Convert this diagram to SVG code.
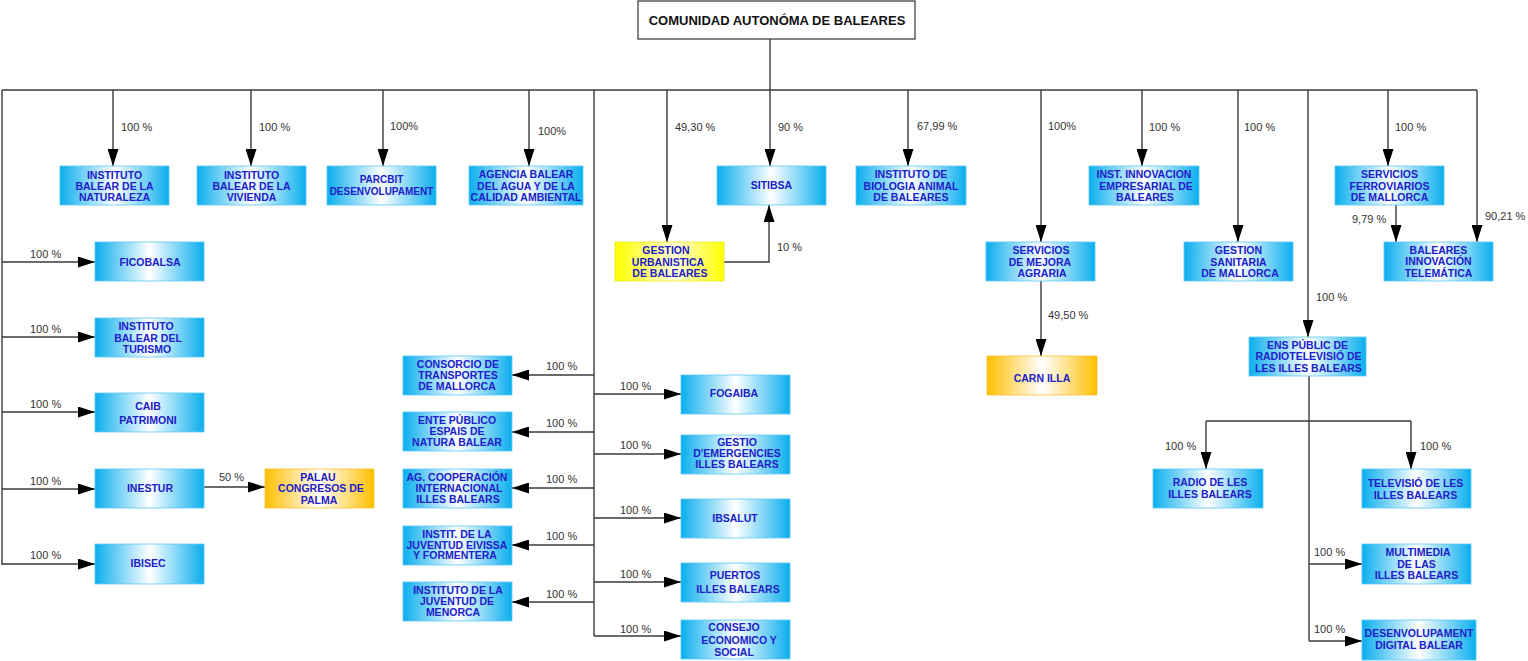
<svg xmlns="http://www.w3.org/2000/svg" width="1528" height="661" viewBox="0 0 1528 661">
<style>
.bx{fill:url(#gBlue);stroke:#5cc8f2;stroke-width:0.8}
.or{fill:url(#gOrange);stroke:#f5c030;stroke-width:0.8}
.ye{fill:url(#gYellow);stroke:#e8e820;stroke-width:0.8}
.t{font-family:"Liberation Sans",Arial,sans-serif;font-weight:bold;font-size:10.5px;fill:#2020c8;text-anchor:middle}
.ts{font-size:10px}
.lb{font-family:"Liberation Sans",Arial,sans-serif;font-size:11px;fill:#333}
.c{fill:none;stroke:#3a3a3a;stroke-width:1.4}
.ca{fill:none;stroke:#3a3a3a;stroke-width:1.4;marker-end:url(#arr)}
</style>
<defs>
<linearGradient id="gBlue" x1="0" y1="0" x2="1" y2="0">
<stop offset="0" stop-color="#0aaeee"/><stop offset="0.5" stop-color="#ffffff"/><stop offset="1" stop-color="#0aaeee"/>
</linearGradient>
<linearGradient id="gOrange" x1="0" y1="0" x2="1" y2="0">
<stop offset="0" stop-color="#ffbf00"/><stop offset="0.5" stop-color="#ffffff"/><stop offset="1" stop-color="#ffbf00"/>
</linearGradient>
<linearGradient id="gYellow" x1="0" y1="0" x2="1" y2="0">
<stop offset="0" stop-color="#ffff00"/><stop offset="0.55" stop-color="#ffffd8"/><stop offset="1" stop-color="#ffff00"/>
</linearGradient>
<marker id="arr" markerUnits="userSpaceOnUse" markerWidth="17" markerHeight="11" refX="17" refY="5.5" orient="auto">
<path d="M0,0 L17,5.5 L0,11 z" fill="#000"/>
</marker>
</defs>

<g id="connectors">
<path class="c" d="M2,90 H1477"/>
<path class="c" d="M2,90 V565"/>
<path class="ca" d="M770,39 V166"/>
<path class="ca" d="M113,90 V166"/>
<path class="ca" d="M251,90 V166"/>
<path class="ca" d="M383,90 V166"/>
<path class="ca" d="M529,90 V166"/>
<path class="ca" d="M908,90 V166"/>
<path class="ca" d="M1142,90 V166"/>
<path class="ca" d="M1388,90 V166"/>
<path class="ca" d="M667,90 V242"/>
<path class="ca" d="M1041,90 V242"/>
<path class="ca" d="M1238,90 V242"/>
<path class="ca" d="M1308,90 V337"/>
<path class="ca" d="M1477,90 V242"/>
<path class="ca" d="M1396,205 V242"/>
<path class="ca" d="M1041,281 V356"/>
<path class="ca" d="M724,262 H769 V205"/>
<path class="ca" d="M2,262 H95"/>
<path class="ca" d="M2,337 H95"/>
<path class="ca" d="M2,412 H95"/>
<path class="ca" d="M2,489 H95"/>
<path class="ca" d="M2,564 H95"/>
<path class="ca" d="M204,487 H265"/>
<path class="c" d="M594,90 V636"/>
<path class="ca" d="M594,375 H512"/>
<path class="ca" d="M594,432 H512"/>
<path class="ca" d="M594,488 H512"/>
<path class="ca" d="M594,545 H512"/>
<path class="ca" d="M594,602 H512"/>
<path class="ca" d="M594,394 H681"/>
<path class="ca" d="M594,454 H681"/>
<path class="ca" d="M594,518 H681"/>
<path class="ca" d="M594,582 H681"/>
<path class="ca" d="M594,636 H681"/>
<path class="c" d="M1309,375 V641"/>
<path class="c" d="M1206,421 H1411"/>
<path class="ca" d="M1206,421 V469"/>
<path class="ca" d="M1411,421 V469"/>
<path class="ca" d="M1309,564 H1362"/>
<path class="ca" d="M1309,641 H1362"/>
</g>

<g id="labels">
<text class="lb" x="121" y="131">100 %</text>
<text class="lb" x="259" y="131">100 %</text>
<text class="lb" x="390" y="130">100%</text>
<text class="lb" x="538" y="135">100%</text>
<text class="lb" x="675" y="131">49,30 %</text>
<text class="lb" x="778" y="131">90 %</text>
<text class="lb" x="917" y="130">67,99 %</text>
<text class="lb" x="1048" y="130">100%</text>
<text class="lb" x="1149" y="131">100 %</text>
<text class="lb" x="1244" y="131">100 %</text>
<text class="lb" x="1395" y="131">100 %</text>
<text class="lb" x="1352" y="223">9,79 %</text>
<text class="lb" x="1485" y="220">90,21 %</text>
<text class="lb" x="1316" y="301">100 %</text>
<text class="lb" x="777" y="251">10 %</text>
<text class="lb" x="1048" y="319">49,50 %</text>
<text class="lb" x="30" y="258">100 %</text>
<text class="lb" x="30" y="333">100 %</text>
<text class="lb" x="30" y="408">100 %</text>
<text class="lb" x="30" y="485">100 %</text>
<text class="lb" x="30" y="559">100 %</text>
<text class="lb" x="219" y="481">50 %</text>
<text class="lb" x="546" y="370">100 %</text>
<text class="lb" x="546" y="427">100 %</text>
<text class="lb" x="546" y="483">100 %</text>
<text class="lb" x="546" y="540">100 %</text>
<text class="lb" x="546" y="598">100 %</text>
<text class="lb" x="620" y="390">100 %</text>
<text class="lb" x="620" y="449">100 %</text>
<text class="lb" x="620" y="514">100 %</text>
<text class="lb" x="620" y="578">100 %</text>
<text class="lb" x="620" y="633">100 %</text>
<text class="lb" x="1165" y="450">100 %</text>
<text class="lb" x="1420" y="450">100 %</text>
<text class="lb" x="1314" y="556">100 %</text>
<text class="lb" x="1314" y="633">100 %</text>
</g>

<g id="n-comunidad">
<rect x="638" y="1" width="277" height="38" fill="#fff" stroke="#333" stroke-width="1.2"/>
<text x="777" y="25" style="font-family:'Liberation Sans',Arial,sans-serif;font-weight:bold;font-size:13px;fill:#111;text-anchor:middle">COMUNIDAD AUTONÓMA DE BALEARES</text>
</g>
<g id="n-naturaleza"><rect class="bx" x="60" y="166" width="109" height="39"/>
<text class="t" x="114.5" y="178.5">INSTITUTO</text><text class="t" x="114.5" y="190">BALEAR DE LA</text><text class="t" x="114.5" y="201">NATURALEZA</text></g>
<g id="n-vivienda"><rect class="bx" x="197" y="166" width="109" height="39"/>
<text class="t" x="251.5" y="178.5">INSTITUTO</text><text class="t" x="251.5" y="190">BALEAR DE LA</text><text class="t" x="251.5" y="201">VIVIENDA</text></g>
<g id="n-parcbit"><rect class="bx" x="327" y="166" width="109" height="39"/>
<text class="t ts" x="381.5" y="183">PARCBIT</text><text class="t ts" x="381.5" y="194.5">DESENVOLUPAMENT</text></g>
<g id="n-agencia"><rect class="bx" x="469" y="166" width="114" height="39"/>
<text class="t" x="526" y="178">AGENCIA BALEAR</text><text class="t" x="526" y="189.5">DEL AGUA Y DE LA</text><text class="t" x="526" y="201">CALIDAD AMBIENTAL</text></g>
<g id="n-sitibsa"><rect class="bx" x="717" y="166" width="109" height="39"/>
<text class="t" x="771.5" y="189">SITIBSA</text></g>
<g id="n-biologia"><rect class="bx" x="856" y="166" width="110" height="39"/>
<text class="t" x="911" y="178">INSTITUTO DE</text><text class="t" x="911" y="189.5">BIOLOGIA ANIMAL</text><text class="t" x="911" y="201">DE BALEARES</text></g>
<g id="n-innovacion"><rect class="bx" x="1089" y="166" width="110" height="39"/>
<text class="t" x="1144" y="178">INST.  INNOVACION</text><text class="t" x="1146" y="189.5">EMPRESARIAL DE</text><text class="t" x="1145" y="201">BALEARES</text></g>
<g id="n-ferroviarios"><rect class="bx" x="1335" y="166" width="109" height="39"/>
<text class="t" x="1389.5" y="178">SERVICIOS</text><text class="t" x="1389.5" y="189.5">FERROVIARIOS</text><text class="t" x="1389.5" y="201">DE MALLORCA</text></g>
<g id="n-urbanistica"><rect class="ye" x="615" y="242" width="109" height="39"/>
<text class="t" x="666" y="254">GESTION</text><text class="t" x="668" y="265.5">URBANISTICA</text><text class="t" x="670" y="277">DE BALEARES</text></g>
<g id="n-agraria"><rect class="bx" x="986" y="242" width="109" height="39"/>
<text class="t" x="1041" y="254">SERVICIOS</text><text class="t" x="1040" y="265.5">DE MEJORA</text><text class="t" x="1042" y="277">AGRARIA</text></g>
<g id="n-sanitaria"><rect class="bx" x="1184" y="242" width="109" height="39"/>
<text class="t" x="1238.5" y="254">GESTION</text><text class="t" x="1238.5" y="265.5">SANITARIA</text><text class="t" x="1240" y="277">DE MALLORCA</text></g>
<g id="n-telematica"><rect class="bx" x="1384" y="242" width="109" height="39"/>
<text class="t" x="1438.5" y="253.5">BALEARES</text><text class="t" x="1438.5" y="265">INNOVACIÓN</text><text class="t" x="1438.5" y="276.5">TELEMÁTICA</text></g>
<g id="n-carnilla"><rect class="or" x="987" y="356" width="110" height="39"/>
<text class="t" x="1042" y="382">CARN ILLA</text></g>
<g id="n-ens"><rect class="bx" x="1249" y="337" width="117" height="39"/>
<text class="t" x="1307.5" y="348.5">ENS PÚBLIC DE</text><text class="t" x="1308.5" y="360">RADIOTELEVISIÓ DE</text><text class="t" x="1308.5" y="371.5">LES ILLES BALEARS</text></g>
<g id="n-radio"><rect class="bx" x="1153" y="469" width="110" height="39"/>
<text class="t" x="1210" y="486">RADIO DE LES</text><text class="t" x="1210" y="498">ILLES BALEARS</text></g>
<g id="n-televisio"><rect class="bx" x="1362" y="469" width="109" height="39"/>
<text class="t" x="1415.5" y="487">TELEVISIÓ DE LES</text><text class="t" x="1415.5" y="499">ILLES BALEARS</text></g>
<g id="n-multimedia"><rect class="bx" x="1362" y="544" width="109" height="40"/>
<text class="t" x="1418" y="556">MULTIMEDIA</text><text class="t" x="1416.5" y="567.5">DE LAS</text><text class="t" x="1416.5" y="579">ILLES BALEARS</text></g>
<g id="n-digital"><rect class="bx" x="1362" y="620" width="114" height="40"/>
<text class="t" x="1419" y="637">DESENVOLUPAMENT</text><text class="t" x="1419" y="649">DIGITAL BALEAR</text></g>
<g id="n-ficobalsa"><rect class="bx" x="95" y="242" width="109" height="39"/>
<text class="t" x="150" y="265.5">FICOBALSA</text></g>
<g id="n-turismo"><rect class="bx" x="95" y="318" width="109" height="39"/>
<text class="t" x="146" y="330">INSTITUTO</text><text class="t" x="148" y="341.5">BALEAR DEL</text><text class="t" x="147" y="353">TURISMO</text></g>
<g id="n-caib"><rect class="bx" x="95" y="393" width="109" height="39"/>
<text class="t" x="148" y="410">CAIB</text><text class="t" x="148" y="424">PATRIMONI</text></g>
<g id="n-inestur"><rect class="bx" x="95" y="469" width="109" height="39"/>
<text class="t" x="150" y="492">INESTUR</text></g>
<g id="n-ibisec"><rect class="bx" x="95" y="544" width="109" height="40"/>
<text class="t" x="148" y="567">IBISEC</text></g>
<g id="n-palau"><rect class="or" x="265" y="469" width="109" height="39"/>
<text class="t" x="318" y="480.5">PALAU</text><text class="t" x="321" y="492">CONGRESOS DE</text><text class="t" x="319" y="503.5">PALMA</text></g>
<g id="n-consorcio"><rect class="bx" x="403" y="356" width="109" height="39"/>
<text class="t" x="458" y="368">CONSORCIO DE</text><text class="t" x="458" y="379">TRANSPORTES</text><text class="t" x="457" y="390">DE MALLORCA</text></g>
<g id="n-ente"><rect class="bx" x="403" y="412" width="109" height="39"/>
<text class="t" x="457" y="424">ENTE PÚBLICO</text><text class="t" x="457" y="435">ESPAIS DE</text><text class="t" x="457" y="446">NATURA BALEAR</text></g>
<g id="n-cooperacion"><rect class="bx" x="403" y="469" width="109" height="39"/>
<text class="t" x="457" y="481">AG. COOPERACIÓN</text><text class="t" x="459" y="492">INTERNACIONAL</text><text class="t" x="458" y="503">ILLES BALEARS</text></g>
<g id="n-eivissa"><rect class="bx" x="403" y="526" width="109" height="39"/>
<text class="t" x="457" y="538">INSTIT. DE LA</text><text class="t" x="457" y="549">JUVENTUD EIVISSA</text><text class="t" x="455" y="559">Y FORMENTERA</text></g>
<g id="n-menorca"><rect class="bx" x="403" y="582" width="109" height="39"/>
<text class="t" x="458" y="594">INSTITUTO DE LA</text><text class="t" x="457" y="605">JUVENTUD DE</text><text class="t" x="453" y="616">MENORCA</text></g>
<g id="n-fogaiba"><rect class="bx" x="681" y="375" width="109" height="39"/>
<text class="t" x="734" y="397">FOGAIBA</text></g>
<g id="n-gestio"><rect class="bx" x="681" y="435" width="109" height="39"/>
<text class="t" x="737" y="446">GESTIO</text><text class="t" x="737" y="457">D'EMERGENCIES</text><text class="t" x="737" y="468">ILLES BALEARS</text></g>
<g id="n-ibsalut"><rect class="bx" x="681" y="499" width="109" height="39"/>
<text class="t" x="735" y="522">IBSALUT</text></g>
<g id="n-puertos"><rect class="bx" x="681" y="563" width="109" height="39"/>
<text class="t" x="735" y="579">PUERTOS</text><text class="t" x="738" y="593">ILLES BALEARS</text></g>
<g id="n-consejo"><rect class="bx" x="681" y="620" width="109" height="39"/>
<text class="t" x="734" y="631">CONSEJO</text><text class="t" x="739" y="644">ECONOMICO Y</text><text class="t" x="734" y="656">SOCIAL</text></g>
</svg>
